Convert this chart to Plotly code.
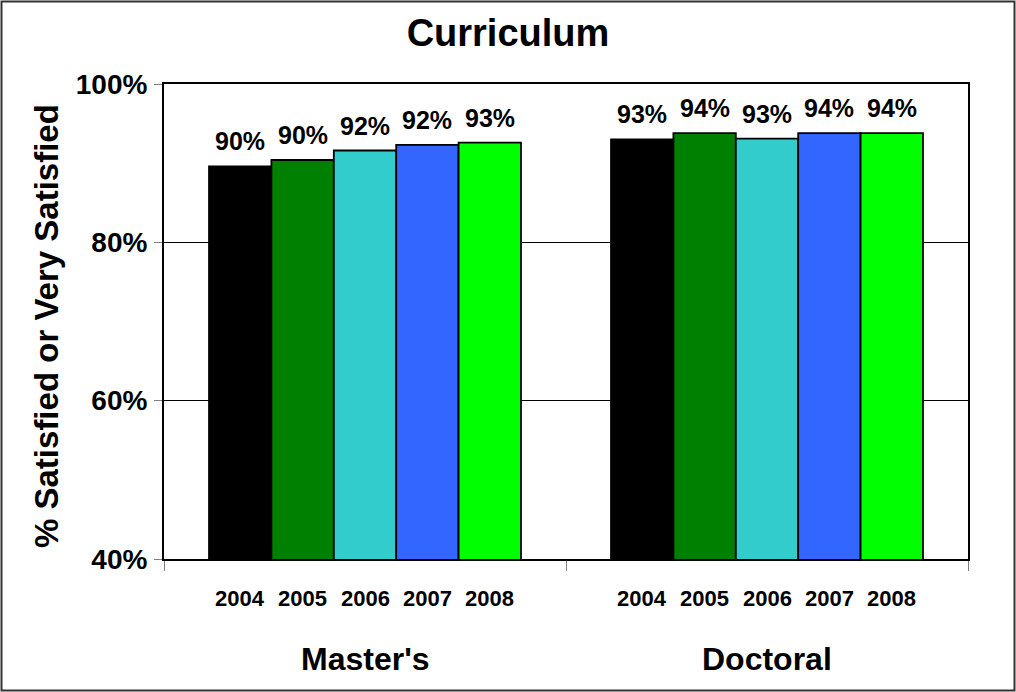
import plotly.graph_objects as go

groups = ["Master's", "Doctoral"]
years = ["2004", "2005", "2006", "2007", "2008"]
values = {
    "2004": [89.6, 93.0],
    "2005": [90.4, 93.8],
    "2006": [91.6, 93.1],
    "2007": [92.3, 93.8],
    "2008": [92.6, 93.8],
}
colors = ["#000000", "#008000", "#33CCCC", "#3366FF", "#00FF00"]
y_ticks = [40, 60, 80, 100]
y_tick_text = [f"{v}%" for v in y_ticks]

FONT = "Arial, Liberation Sans, sans-serif"
W, H = 1016, 692
L, R, T, B = 164, 48, 84, 133
bargap = 0.224
nb = len(years)
bw = (1 - bargap) / nb
pw, ph = W - L - R, H - T - B
ybot = H - B

fig = go.Figure()
for i, yr in enumerate(years):
    fig.add_trace(go.Bar(
        x=groups, y=values[yr], name=yr,
        marker=dict(color=colors[i], line=dict(color="#000000", width=1.8)),
        showlegend=False, hoverinfo="x+y+name",
    ))

annotations = []
for gi, g in enumerate(groups):
    for i, yr in enumerate(years):
        xpos = gi + (i - (nb - 1) / 2) * bw
        v = values[yr][gi]
        annotations.append(dict(
            x=xpos, y=v, xref="x", yref="y", text=f"{round(v):d}%",
            showarrow=False, yanchor="bottom", yshift=9,
            font=dict(family=FONT, size=25, color="#000000", weight="bold"),
        ))
        annotations.append(dict(
            x=xpos, y=(ybot - 598) / ph, xref="x", yref="paper",
            text=yr, showarrow=False, yanchor="middle",
            font=dict(family=FONT, size=22, color="#000000", weight="bold"),
        ))
    annotations.append(dict(
        x=gi, y=(ybot - 659) / ph, xref="x", yref="paper",
        text=g, showarrow=False, yanchor="middle",
        font=dict(family=FONT, size=32, color="#000000", weight="bold"),
    ))

annotations.append(dict(
    x=(46 - L) / pw, y=(ybot - 326) / ph, xref="paper", yref="paper",
    text="% Satisfied or Very Satisfied", textangle=-90, showarrow=False,
    xanchor="center", yanchor="middle",
    font=dict(family=FONT, size=33, color="#000000", weight="bold"),
))

shapes = [dict(
    type="rect", xref="paper", yref="paper",
    x0=(1.5 - L) / pw, x1=(W - 1.5 - L) / pw,
    y0=(ybot - (H - 1.5)) / ph, y1=(ybot - 1.5) / ph,
    line=dict(color="#333333", width=2), fillcolor="rgba(0,0,0,0)", layer="below",
)]

fig.update_layout(
    width=W, height=H,
    margin=dict(l=L, r=R, t=T, b=B, autoexpand=False),
    paper_bgcolor="#FFFFFF", plot_bgcolor="#FFFFFF",
    barmode="group", bargap=bargap, bargroupgap=0,
    title=dict(text="Curriculum", x=0.5, xref="container", xanchor="center",
               y=1 - 33 / H, yref="container", yanchor="middle",
               font=dict(family=FONT, size=38, color="#000000", weight="bold")),
    xaxis=dict(
        type="category", showticklabels=False, tickson="boundaries",
        ticks="outside", ticklen=10, tickcolor="#808080", tickwidth=1,
        showline=True, linecolor="#000000", linewidth=2, mirror=True,
        showgrid=False, zeroline=False,
    ),
    yaxis=dict(
        range=[40, 100], tickmode="array", tickvals=y_ticks, ticktext=y_tick_text,
        ticks="outside", ticklen=8, tickcolor="#808080", tickwidth=1,
        ticklabelstandoff=1,
        tickfont=dict(family=FONT, size=28, color="#000000", weight="bold"),
        showline=True, linecolor="#000000", linewidth=2, mirror=True,
        showgrid=True, gridcolor="#000000", gridwidth=1, zeroline=False,
    ),
    annotations=annotations,
    shapes=shapes,
)

fig.write_html("out.html", config={"displayModeBar": False},
               post_script="document.body.style.margin='0';document.body.style.overflow='hidden';")
